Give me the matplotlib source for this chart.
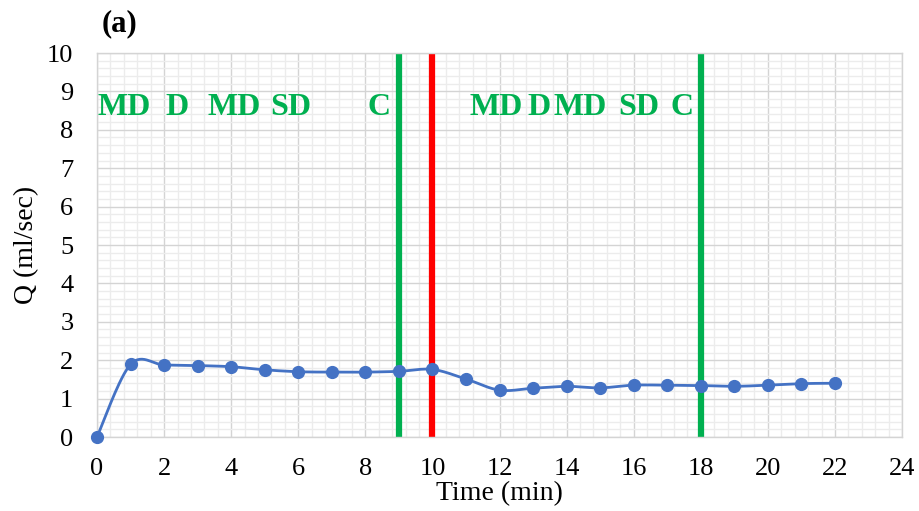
import matplotlib
matplotlib.use("Agg")
import matplotlib.pyplot as plt
from matplotlib.ticker import MultipleLocator
import numpy as np

plt.rcParams['font.family'] = ['Liberation Serif', 'DejaVu Serif']

# data
time_min = [0, 1, 2, 3, 4, 5, 6, 7, 8, 9, 10, 11, 12, 13, 14, 15, 16, 17, 18, 19, 20, 21, 22]
q_mlsec = [0.0, 1.89, 1.875, 1.86, 1.83, 1.75, 1.70, 1.69, 1.69, 1.71, 1.76, 1.51, 1.22, 1.27,
           1.32, 1.28, 1.35, 1.35, 1.34, 1.32, 1.35, 1.39, 1.40]

vline_x = [9, 10, 18]
vline_colors = ['#00B050', '#FF0000', '#00B050']

stage_labels = ['MD', 'D', 'MD', 'SD', 'C', 'MD', 'D', 'MD', 'SD', 'C']
stage_x = [0.0, 2.03, 3.3, 5.18, 8.05, 11.12, 12.82, 13.6, 15.53, 17.1]
stage_y = 8.58


def excel_smooth(x, y, n=30):
    # bezier smoothing like Excel's "smoothed line"
    x = np.asarray(x, float)
    y = np.asarray(y, float)
    px = np.concatenate([[x[0]], x, [x[-1]]])
    py = np.concatenate([[y[0]], y, [y[-1]]])
    xs, ys = [], []
    t = np.linspace(0, 1, n)
    for i in range(1, len(px) - 2):
        p0 = np.array([px[i], py[i]])
        p3 = np.array([px[i + 1], py[i + 1]])
        c1 = p0 + (np.array([px[i + 1], py[i + 1]]) - np.array([px[i - 1], py[i - 1]])) / 6
        c2 = p3 - (np.array([px[i + 2], py[i + 2]]) - np.array([px[i], py[i]])) / 6
        b = ((1 - t) ** 3)[:, None] * p0 + (3 * (1 - t) ** 2 * t)[:, None] * c1 \
            + (3 * (1 - t) * t ** 2)[:, None] * c2 + (t ** 3)[:, None] * p3
        xs.extend(b[:, 0])
        ys.extend(b[:, 1])
    return xs, ys


fig = plt.figure(figsize=(9.19, 5.11), dpi=100)
ax = fig.add_axes([97 / 919, 1 - 437 / 511, 805 / 919, 384 / 511])

ax.set_xlim(0, 24)
ax.set_ylim(0, 10)
ax.xaxis.set_major_locator(MultipleLocator(2))
ax.xaxis.set_minor_locator(MultipleLocator(0.4))
ax.yaxis.set_major_locator(MultipleLocator(1))
ax.yaxis.set_minor_locator(MultipleLocator(0.2))
ax.grid(which='minor', color='#ececec', linewidth=1.0, zorder=0)
ax.grid(which='major', color='#d4d4d4', linewidth=1.0, zorder=0)
ax.set_axisbelow(True)
ax.tick_params(which='both', length=0)
ax.tick_params(axis='x', labelsize=19, pad=15)
ax.tick_params(axis='y', labelsize=19, pad=17)
for s in ax.spines.values():
    s.set_color('#d4d4d4')
    s.set_linewidth(1.0)

for xv, c in zip(vline_x, vline_colors):
    ax.axvline(xv, color=c, linewidth=4.5, zorder=2)

sx, sy = excel_smooth(time_min, q_mlsec)
ax.plot(sx, sy, color='#4472C4', linewidth=2.0, zorder=3, clip_on=False)
ax.plot(time_min, q_mlsec, 'o', color='#4472C4', markersize=8.5, zorder=4, clip_on=False)

for lab, xv in zip(stage_labels, stage_x):
    ax.text(xv, stage_y, lab, color='#00B050', fontsize=23, fontweight='bold',
            ha='left', va='center', zorder=5)

ax.set_xlabel('Time (min)', fontsize=20, labelpad=1)
ax.set_ylabel('Q (ml/sec)', fontsize=20, labelpad=6)

fig.text(102 / 919, 1 - 24 / 511, '(a)', fontsize=22, fontweight='bold', ha='left', va='center')

fig.savefig('out.png', dpi=100)
